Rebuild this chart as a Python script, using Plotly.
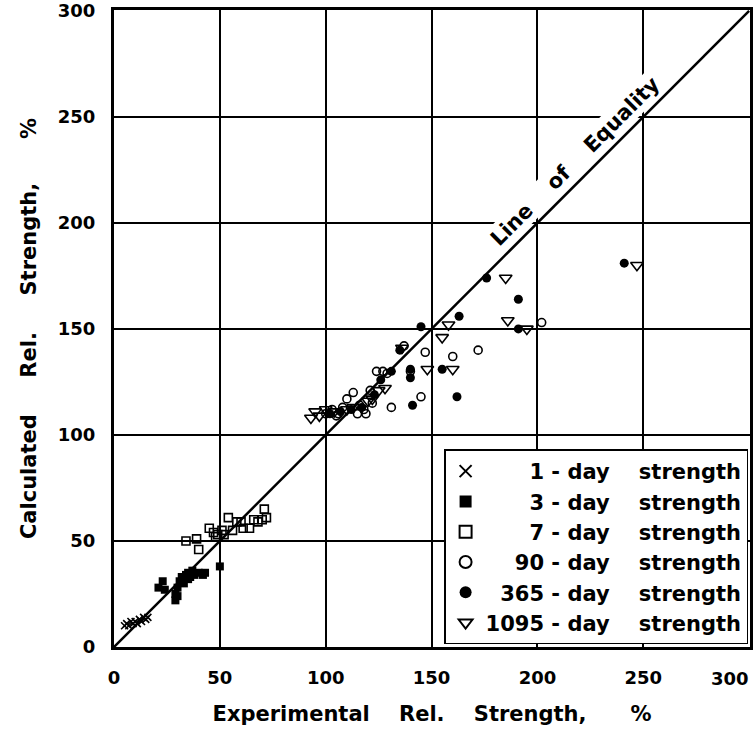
import plotly.graph_objects as go

# ---- data ----
day1_x = [5, 6, 7, 8, 9, 10, 11, 12, 13, 14, 15, 16]
day1_y = [10, 11, 10, 12, 11, 12, 11, 13, 12, 14, 13, 14]

day3_x = [21, 23, 24, 29, 29, 30, 31, 30, 32, 34, 35, 36, 37, 38, 40, 42, 43, 35, 33, 50]
day3_y = [28, 31, 27, 22, 25, 28, 31, 24, 33, 34, 35, 33, 36, 34, 35, 34, 35, 32, 30, 38]

day7_x = [34, 39, 40, 45, 47, 49, 51, 52, 54, 56, 58, 60, 61, 64, 66, 68, 70, 72, 71, 48]
day7_y = [50, 51, 46, 56, 54, 53, 55, 53, 61, 55, 59, 59, 56, 56, 60, 59, 60, 61, 65, 52]

day90_x = [100, 103, 106, 108, 110, 113, 115, 118, 119, 121, 122, 124, 127, 129, 131,
           137, 145, 147, 160, 172, 202, 140, 105, 116]
day90_y = [110, 112, 110, 113, 117, 120, 110, 112, 110, 121, 115, 130, 130, 129, 113,
           142, 118, 139, 137, 140, 153, 130, 109, 114]

day365_x = [102, 107, 112, 117, 123, 126, 135, 140, 140, 141, 145, 155, 162, 163, 176,
            191, 191, 241, 131]
day365_y = [110, 111, 112, 113, 119, 126, 140, 127, 131, 114, 151, 131, 118, 156, 174,
            164, 150, 181, 130]

day1095_x = [93, 95, 97, 100, 104, 110, 120, 125, 128, 136, 148, 155, 158, 160, 185,
             186, 195, 247, 122, 113]
day1095_y = [108, 111, 109, 112, 111, 112, 116, 121, 122, 141, 131, 146, 152, 131, 174,
             154, 150, 180, 117, 113]

equality = [0, 300]
ticks = [0, 50, 100, 150, 200, 250, 300]
tick_labels = ["0", "50", "100", "150", "200", "250", "300"]

FONT = "DejaVu Sans"
FS = "\u2007"  # figure space (digit width) for right-aligning legend labels
TICKFONT = dict(family=FONT, size=18, color="black", weight="bold")

fig = go.Figure()

fig.add_trace(go.Scatter(x=equality, y=equality, mode="lines",
                         line=dict(color="black", width=2.5),
                         showlegend=False, hoverinfo="skip"))

series = [
    (day1_x, day1_y, FS * 3 + "1 - day    strength",
     dict(symbol="x-thin", size=7, line=dict(color="black", width=1.6), color="black")),
    (day3_x, day3_y, FS * 3 + "3 - day    strength",
     dict(symbol="square", size=8, color="black", line=dict(color="black", width=0))),
    (day7_x, day7_y, FS * 3 + "7 - day    strength",
     dict(symbol="square-open", size=8, color="black", line=dict(color="black", width=1.6))),
    (day90_x, day90_y, FS * 2 + "90 - day    strength",
     dict(symbol="circle-open", size=8, color="black", line=dict(color="black", width=1.6))),
    (day365_x, day365_y, FS + "365 - day    strength",
     dict(symbol="circle", size=9, color="black", line=dict(color="black", width=0))),
    (day1095_x, day1095_y, "1095 - day    strength",
     dict(symbol="triangle-down-open", size=11, color="black", line=dict(color="black", width=1.6))),
]
for x, y, name, marker in series:
    fig.add_trace(go.Scatter(x=x, y=y, mode="markers", name=name, marker=marker))

axis_common = dict(
    range=[0, 300.4], tickvals=ticks,
    showgrid=True, gridcolor="black", gridwidth=2,
    zeroline=False, showline=True, linecolor="black", linewidth=3, mirror=True,
    ticks="", tickfont=TICKFONT,
    ticklabeloverflow="allow", automargin=False,
    fixedrange=True,
)

# last x tick label sits right-aligned at the frame edge (as in the reference)
x_ticktext = tick_labels[:-1] + [""]

fig.update_layout(
    width=754, height=733,
    margin=dict(l=114, r=4, t=10, b=86),
    paper_bgcolor="white", plot_bgcolor="white",
    font=dict(family=FONT, color="black"),
    xaxis=dict(**axis_common, ticktext=x_ticktext,
               title=dict(text="Experimental    Rel.    Strength,      %",
                          font=dict(family=FONT, size=21, color="black", weight="bold"),
                          standoff=20)),
    yaxis=dict(**axis_common, ticktext=tick_labels,
               title=dict(text="Calculated     Rel.     Strength,      %",
                          font=dict(family=FONT, size=21, color="black", weight="bold"),
                          standoff=16)),
    legend=dict(x=0.997, y=0.004, xanchor="right", yanchor="bottom",
                bgcolor="white", bordercolor="black", borderwidth=1.5,
                font=dict(family=FONT, size=21, color="black", weight="bold"),
                itemsizing="constant", tracegroupgap=0, itemwidth=30),
    showlegend=True,
)
fig.update_xaxes(ticklabelstandoff=12)
fig.update_yaxes(ticklabelstandoff=12)

fig.add_annotation(x=ticks[-1], y=0, xref="x", yref="y",
                   text=tick_labels[-1], showarrow=False,
                   xanchor="right", yanchor="top", xshift=2, yshift=-19,
                   font=TICKFONT)

fig.add_annotation(x=218, y=229, xref="x", yref="y",
                   text="Line    of    Equality", showarrow=False, textangle=-45,
                   font=dict(family=FONT, size=21, color="black", weight="bold"),
                   bgcolor="white")

fig.write_html("out.html")
